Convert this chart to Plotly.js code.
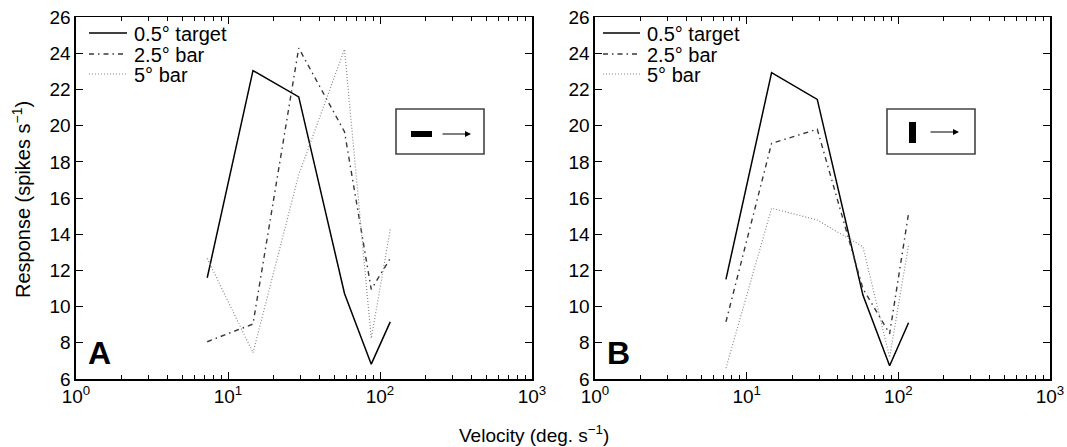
<!DOCTYPE html>
<html>
<head>
<meta charset="utf-8">
<script src="https://cdn.plot.ly/plotly-3.0.1.min.js"></script>
<style>html,body{margin:0;padding:0;background:#fff;}#chart{width:1067px;height:447px;}</style>
</head>
<body>
<div id="chart"></div>
<script>
// ---- data ----
const velocity = [7.3, 14.6, 29.2, 58.4, 87.6, 116.8];
const seriesNames = ["0.5\u00b0 target", "2.5\u00b0 bar", "5\u00b0 bar"];
// Panel A (horizontal bar)
const a_target = [11.6, 23.05, 21.6, 10.73, 6.82, 9.16];
const a_bar25  = [8.06, 9.04, 24.3, 19.67, 10.95, 12.67];
const a_bar5   = [12.67, 7.45, 17.3, 24.23, 8.25, 14.27];
// Panel B (vertical bar)
const b_target = [11.51, 22.94, 21.46, 10.64, 6.73, 9.11];
const b_bar25  = [9.16, 19.03, 19.81, 11.0, 8.5, 15.16];
const b_bar5   = [6.6, 15.44, 14.79, 13.31, 7.2, 13.4];
// tick labels
const xTickVals = [1, 10, 100, 1000];
const xTickText = ["10<sup>0</sup>", "10<sup>1</sup>", "10<sup>2</sup>", "10<sup>3</sup>"];
const yTickVals = [6, 8, 10, 12, 14, 16, 18, 20, 22, 24, 26];
const panelLetters = ["A", "B"];

// ---- layout helpers ----
const W = 1067, H = 447;
const px = v => v / W;
const py = v => 1 - v / H;
const FONT = "Liberation Sans, Arial, Helvetica, sans-serif";
const TF = 19;

const minorVals = [];
[1, 10, 100].forEach(d => { for (let k = 2; k <= 9; k++) minorVals.push(d * k); });

const styles = [
  {color: "#000000", width: 1.5, dash: "solid"},
  {color: "#383838", width: 1.4, dash: "5px,4px,1.5px,4px"},
  {color: "#8a8a8a", width: 1.2, dash: "1px,2px"}
];

function mk(y, i, xa, ya) {
  return {x: velocity, y: y, type: "scatter", mode: "lines", name: seriesNames[i],
    xaxis: xa, yaxis: ya, showlegend: false,
    line: {color: styles[i].color, width: styles[i].width, dash: styles[i].dash}};
}

const traces = [
  mk(a_target, 0, "x", "y"),
  mk(a_bar25, 1, "x", "y"),
  mk(a_bar5, 2, "x", "y"),
  mk(b_target, 0, "x2", "y2"),
  mk(b_bar25, 1, "x2", "y2"),
  mk(b_bar5, 2, "x2", "y2")
];

const yDom = [py(379), py(17.3)];
function xax(dom, anchor) {
  return {domain: dom, anchor: anchor, type: "log", range: [0, 3],
    tickvals: xTickVals, ticktext: xTickText, ticks: "inside", ticklen: 7, tickwidth: 1,
    tickcolor: "#000", showline: true, linecolor: "#000", linewidth: 1.6, mirror: "ticks",
    showgrid: false, zeroline: false, ticklabeloverflow: "allow",
    tickfont: {family: FONT, size: TF, color: "#000"},
    minor: {tickvals: minorVals, ticks: "inside", ticklen: 4, tickcolor: "#000", tickwidth: 1, showgrid: false}};
}
function yax(dom, anchor) {
  return {domain: dom, anchor: anchor, range: [6, 26], tickvals: yTickVals,
    ticks: "inside", ticklen: 7, tickwidth: 1, tickcolor: "#000",
    showline: true, linecolor: "#000", linewidth: 1.6, mirror: "ticks",
    showgrid: false, zeroline: false, ticklabeloverflow: "allow",
    tickfont: {family: FONT, size: TF, color: "#000"}};
}

const shapes = [];
const annotations = [];

// legends (one per panel), entries built from the series names / styles
function legendBlock(lineX0, lineX1, textX) {
  const rowsY = [33, 54, 74];
  seriesNames.forEach((nm, i) => {
    shapes.push({type: "line", xref: "paper", yref: "paper", x0: px(lineX0), x1: px(lineX1), y0: py(rowsY[i]), y1: py(rowsY[i]),
      line: {color: styles[i].color, width: styles[i].width, dash: styles[i].dash}});
    annotations.push({xref: "paper", yref: "paper", x: px(textX), y: py(rowsY[i] + 1), xanchor: "left", yanchor: "middle",
      text: nm, showarrow: false, font: {family: FONT, size: 20, color: "#000"}});
  });
}
legendBlock(89, 127, 132);
legendBlock(603, 640, 645);

// insets (stimulus icons)
function inset(rx0, rx1, bar, arrow) {
  shapes.push({type: "rect", xref: "paper", yref: "paper", x0: px(rx0), x1: px(rx1), y0: py(154), y1: py(109),
    line: {color: "#444", width: 1.6}, fillcolor: "rgba(0,0,0,0)"});
  shapes.push({type: "rect", xref: "paper", yref: "paper", x0: px(bar[0]), x1: px(bar[1]), y0: py(bar[3]), y1: py(bar[2]),
    line: {color: "#000", width: 0}, fillcolor: "#000"});
  annotations.push({xref: "paper", yref: "paper", x: px(arrow[1]), y: py(arrow[2]), ax: arrow[0] - arrow[1], ay: 0,
    axref: "pixel", ayref: "pixel", text: "", showarrow: true, arrowhead: 2, arrowsize: 1.2, arrowwidth: 1, arrowcolor: "#000"});
}
inset(396, 484, [411, 432, 131, 137], [441, 471, 134]);
inset(887, 975, [909, 916, 122, 143], [929, 959, 132]);

// panel letters
annotations.push({xref: "paper", yref: "paper", x: px(86), y: py(373), xanchor: "left", yanchor: "bottom",
  text: "<b>" + panelLetters[0] + "</b>", showarrow: false, font: {family: FONT, size: 32, color: "#000"}});
annotations.push({xref: "paper", yref: "paper", x: px(605), y: py(373), xanchor: "left", yanchor: "bottom",
  text: "<b>" + panelLetters[1] + "</b>", showarrow: false, font: {family: FONT, size: 32, color: "#000"}});
// axis titles
annotations.push({xref: "paper", yref: "paper", x: px(534), y: py(434), xanchor: "center", yanchor: "middle",
  text: "Velocity (deg. s<sup>\u22121</sup>)", showarrow: false, font: {family: FONT, size: 19, color: "#000"}});
annotations.push({xref: "paper", yref: "paper", x: px(21), y: py(200), xanchor: "center", yanchor: "middle", textangle: -90,
  text: "Response (spikes s<sup>\u22121</sup>)", showarrow: false, font: {family: FONT, size: 20, color: "#000"}});

const layout = {
  width: W, height: H, margin: {l: 0, r: 0, t: 0, b: 0},
  paper_bgcolor: "#fff", plot_bgcolor: "#fff",
  xaxis: xax([px(76), px(532)], "y"),
  yaxis: yax(yDom, "x"),
  xaxis2: xax([px(595), px(1050)], "y2"),
  yaxis2: yax(yDom, "x2"),
  shapes: shapes, annotations: annotations, showlegend: false
};

Plotly.newPlot("chart", traces, layout, {displayModeBar: false, staticPlot: true});
</script>
</body>
</html>
